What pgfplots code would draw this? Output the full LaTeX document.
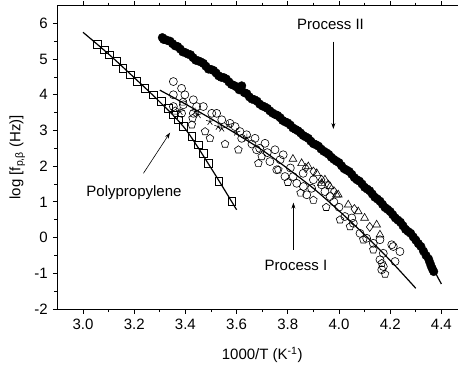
\documentclass[border=0pt]{standalone}
\usepackage{pgfplots}
\pgfplotsset{compat=1.18}
\usepackage{fontspec}
\setmainfont{Liberation Sans}
\usetikzlibrary{arrows.meta}

\begin{document}
\fontsize{15}{18}\selectfont
\begin{tikzpicture}
\begin{axis}[
  at={(0,0)}, anchor=south west,
  scale only axis, width=409.6pt, height=303.5pt,
  xmin=2.9, xmax=4.5, ymin=-2, ymax=6.5,
  xtick={3.0,3.2,3.4,3.6,3.8,4.0,4.2,4.4},
  ytick={-2,-1,0,1,2,3,4,5,6},
  minor x tick num=1, minor y tick num=1,
  tick align=outside, tick pos=both,
  major tick length=4.5pt, minor tick length=3pt,
  axis line style={line width=1pt},
  tick style={line width=0.8pt, black},
  /pgf/number format/assume math mode=true,
  xticklabel style={/pgf/number format/.cd, fixed, fixed zerofill, precision=1},
  tick label style={font=\fontsize{15}{18}\selectfont},
  label style={font=\fontsize{15}{18}\selectfont},
  xlabel={1000/T (K\textsuperscript{-1})},
  ylabel={log [f\textsubscript{p,β} (Hz)]},
  every axis x label/.style={at={(axis description cs:0.5,-0.152)}, anchor=center},
  every axis y label/.style={at={(axis description cs:-0.098,0.5)}, rotate=90, anchor=center},
]
% Polypropylene
\addplot[only marks, mark=square, mark size=3.8pt, mark options={line width=0.6pt}, black] coordinates {
(3.057,5.42) (3.083,5.26) (3.103,5.12) (3.129,4.93) (3.155,4.74) (3.184,4.56)
(3.210,4.37) (3.242,4.18) (3.275,4.00) (3.307,3.81) (3.333,3.62) (3.353,3.44)
(3.372,3.30) (3.392,3.11) (3.425,2.83) (3.450,2.60) (3.470,2.36) (3.490,2.08)
(3.531,1.57) (3.581,1.01)
};
\addplot[black, line width=1.2pt, smooth] coordinates {
(3.0,5.75) (3.1,5.14) (3.2,4.48) (3.3,3.80) (3.4,3.04) (3.5,1.95) (3.6,0.78)
};
% Process II
\addplot[only marks, mark=*, mark size=4.3pt, black] coordinates {
(3.31,5.60) (3.32,5.55) (3.33,5.52) (3.35,5.43) (3.36,5.37) (3.38,5.28)
(3.40,5.18) (3.41,5.14) (3.43,5.04) (3.45,4.95) (3.46,4.92) (3.48,4.80)
(3.50,4.71) (3.52,4.61) (3.54,4.49) (3.55,4.48) (3.57,4.36) (3.59,4.26)
(3.61,4.14) (3.62,4.25) (3.63,4.06) (3.65,3.94) (3.67,3.86) (3.69,3.74)
(3.71,3.66) (3.73,3.55) (3.75,3.45) (3.77,3.36) (3.79,3.24) (3.81,3.15)
(3.83,3.03) (3.85,2.93) (3.87,2.82) (3.89,2.70) (3.91,2.60) (3.93,2.48)
(3.95,2.38) (3.97,2.25) (3.99,2.14) (4.01,2.01) (4.03,1.89) (4.05,1.77)
(4.07,1.62) (4.09,1.50) (4.11,1.36) (4.13,1.22) (4.15,1.08) (4.17,0.93)
(4.19,0.79) (4.21,0.64) (4.23,0.49) (4.25,0.33) (4.27,0.17) (4.29,0.02)
(4.31,-0.17) (4.33,-0.38) (4.35,-0.60) (4.36,-0.80) (4.37,-0.95)
};
\addplot[only marks, mark=*, mark size=4.3pt, black] coordinates {
(3.315,5.55) (3.34,5.50) (3.37,5.35) (3.39,5.20) (3.42,5.12) (3.44,4.97)
(3.47,4.88) (3.49,4.72) (3.51,4.68) (3.53,4.53) (3.56,4.44) (3.58,4.29)
(3.60,4.22) (3.64,4.03) (3.66,3.88) (3.68,3.82) (3.70,3.69) (3.72,3.62)
(3.74,3.49) (3.76,3.42) (3.78,3.28) (3.80,3.21) (3.82,3.07) (3.84,2.99)
(3.86,2.86) (3.88,2.78) (3.90,2.63) (3.92,2.56) (3.94,2.42) (3.96,2.33)
(3.98,2.19) (4.00,2.10) (4.02,1.93) (4.04,1.85) (4.06,1.68) (4.08,1.58)
(4.10,1.41) (4.12,1.31) (4.14,1.13) (4.16,1.02) (4.18,0.84) (4.20,0.73)
(4.22,0.55) (4.24,0.43) (4.26,0.23) (4.28,0.12) (4.30,-0.07) (4.32,-0.25)
(4.34,-0.50) (4.355,-0.70) (4.365,-0.88)
};
\addplot[black, line width=1.2pt, smooth] coordinates {
(3.31,5.60) (3.5,4.70) (3.7,3.70) (3.9,2.65) (4.1,1.43) (4.2,0.72) (4.3,-0.05) (4.4,-1.30)
};
% Process I
\addplot[only marks, mark=o, mark size=4pt, mark options={line width=0.6pt}, black] coordinates {
(3.353,4.37) (3.385,4.18) (3.353,4.00) (3.398,4.00) (3.431,3.86) (3.353,3.67)
(3.392,3.72) (3.444,3.67) (3.470,3.67) (3.385,3.48) (3.431,3.48) (3.503,3.48)
(3.522,3.48) (3.542,3.30) (3.574,3.20) (3.594,3.11) (3.613,2.97) (3.639,2.88)
(3.672,2.78) (3.711,2.64) (3.678,2.46) (3.750,2.46) (3.782,2.32) (3.730,2.13)
(3.770,2.18) (3.757,1.90) (3.789,1.71) (3.821,1.71) (3.835,1.52) (3.861,1.43)
(3.893,1.38) (3.932,1.48) (3.945,1.29) (3.965,1.15) (3.874,1.20) (4.023,0.59)
(4.056,0.40) (4.082,0.12) (4.108,-0.02) (4.134,-0.16) (4.160,-0.06) (4.212,-0.25)
(4.238,-0.39) (4.206,-0.20) (4.219,-0.67) (4.173,-0.44) (4.160,-0.62) (4.173,-0.81)
(4.167,-0.90) (3.62,2.78) (3.66,2.62) (3.69,2.50) (3.72,2.38) (3.81,1.95)
(3.86,1.80) (3.90,1.62) (3.98,1.00) (4.00,0.85) (4.05,0.55)
};
\addplot[only marks, mark=pentagon, mark size=4pt, mark options={line width=0.6pt}, black] coordinates {
(3.425,3.16) (3.428,3.34) (3.477,2.97) (3.496,2.78) (3.555,2.62) (3.607,2.46)
(3.685,2.08) (3.763,1.90) (3.698,2.27) (3.800,1.55) (3.85,1.25) (3.90,1.05)
(3.95,0.85) (4.004,0.50) (4.043,0.31) (4.095,-0.06) (4.134,-0.34) (4.167,-0.72)
(4.180,-1.02) (3.39,3.80) (3.36,3.55)
};
\addplot[only marks, mark=star, mark size=4pt, mark options={line width=0.6pt}, black] coordinates {
(3.379,3.53) (3.438,3.53) (3.450,3.44) (3.496,3.25) (3.528,3.11) (3.542,3.06)
(3.568,3.16) (3.60,2.95) (3.64,2.80)
};
\addplot[only marks, mark=triangle, mark size=4.5pt, mark options={line width=0.6pt}, black] coordinates {
(3.854,2.08) (3.880,1.99) (3.913,1.80) (3.945,1.62) (3.965,1.43) (3.997,1.20)
(3.932,1.52) (3.990,1.20) (4.036,0.92) (4.075,0.73) (4.147,0.36) (4.160,0.08)
(4.10,0.55) (3.82,2.20)
};
\addplot[only marks, mark=diamond, mark size=4.5pt, mark options={line width=0.6pt}, black] coordinates {
(3.900,1.85) (3.932,1.62) (3.958,1.48) (3.87,1.95) (3.98,1.30) (4.06,0.80) (4.12,0.30)
};
\addplot[black, line width=1.2pt, smooth] coordinates {
(3.30,4.13) (3.40,3.74) (3.50,3.33) (3.60,2.90) (3.70,2.45) (3.80,1.93)
(3.90,1.38) (4.00,0.75) (4.10,0.08) (4.20,-0.64) (4.30,-1.42)
};
% annotations
\draw[-{Stealth[length=6pt,width=4pt]}, line width=0.6pt] (3.978,5.49) -- (3.978,3.04);
\node at (3.967,5.96) {Process II};
\draw[-{Stealth[length=6pt,width=4pt]}, line width=0.6pt] (3.236,1.80) -- (3.34,2.94);
\node at (3.199,1.26) {Polypropylene};
\draw[-{Stealth[length=6pt,width=4pt]}, line width=0.6pt] (3.822,-0.34) -- (3.822,0.98);
\node at (3.832,-0.79) {Process I};
\end{axis}
\pgfresetboundingbox
\useasboundingbox (-57.4pt,-59pt) rectangle (400.6pt,309pt);
\end{tikzpicture}
\end{document}
